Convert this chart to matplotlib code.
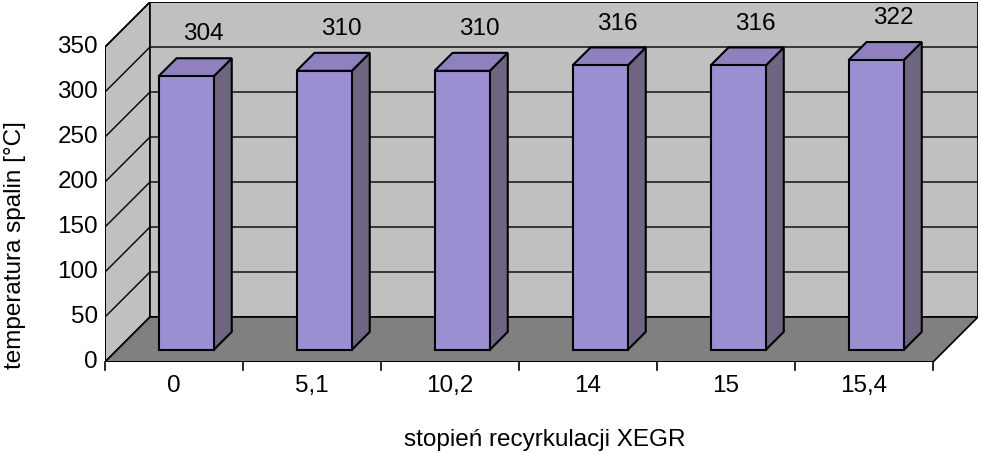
import matplotlib
matplotlib.use("Agg")
import matplotlib.pyplot as plt
from matplotlib.patches import Polygon

plt.rcParams['font.family'] = ['Liberation Sans', 'DejaVu Sans']

categories = ["0", "5,1", "10,2", "14", "15", "15,4"]
values = [304, 310, 310, 316, 316, 322]
yticks = [0, 50, 100, 150, 200, 250, 300, 350]

D = 0.326      # depth offset in category units
DY = 50        # depth offset in value units
f0, f1 = 0.27, 0.67   # bar front/back depth fraction
hw = 0.2
FS = 17.5

fig = plt.figure(figsize=(9.81, 4.55), dpi=100)
ax = fig.add_axes([105 / 981, 1 - 362 / 455, 873 / 981, 360 / 455])
ax.set_xlim(-0.5, 5.5 + D)
ax.set_ylim(0, 350 + DY)
ax.axis('off')

n = len(categories)
x0, x1 = -0.5, n - 0.5
top = yticks[-1]

# walls and floor
ax.add_patch(Polygon([(x0, 0), (x0, top), (x0 + D, top + DY), (x0 + D, DY)],
                     closed=True, fc='#c0c0c0', ec='black', lw=1.2, zorder=1))
ax.add_patch(Polygon([(x0 + D, DY), (x0 + D, top + DY), (x1 + D, top + DY), (x1 + D, DY)],
                     closed=True, fc='#c0c0c0', ec='black', lw=1.2, zorder=1))
ax.add_patch(Polygon([(x0, 0), (x1, 0), (x1 + D, DY), (x0 + D, DY)],
                     closed=True, fc='#808080', ec='black', lw=1.2, zorder=2))
for t in yticks[1:]:
    ax.plot([x0, x0 + D, x1 + D], [t, t + DY, t + DY], color='black', lw=1, zorder=1.5)

# axes lines and ticks
ax.plot([x0, x0], [0, top], color='black', lw=1.2, zorder=3)
ax.plot([x0, x1], [0, 0], color='black', lw=1.2, zorder=3)
for t in yticks:
    ax.plot([x0 - 0.04, x0], [t, t], color='black', lw=1.2, zorder=3)
    ax.text(x0 - 0.05, t, str(t), ha='right', va='center', fontsize=FS)
for i in range(n + 1):
    ax.plot([x0 + i, x0 + i], [0, -9], color='black', lw=1.2, zorder=3, clip_on=False)
for i, c in enumerate(categories):
    ax.text(i, -27, c, ha='center', va='center', fontsize=FS)

# bars
for i, v in enumerate(values):
    l = i - hw + f0 * D
    r = i + hw + f0 * D
    b = f0 * DY
    dx = (f1 - f0) * D
    dy = (f1 - f0) * DY
    ax.add_patch(Polygon([(r, b), (r + dx, b + dy), (r + dx, v + b + dy), (r, v + b)],
                         closed=True, fc='#6e6680', ec='black', lw=1.5, zorder=4))
    ax.add_patch(Polygon([(l, v + b), (r, v + b), (r + dx, v + b + dy), (l + dx, v + b + dy)],
                         closed=True, fc='#8f80c0', ec='black', lw=1.5, zorder=4))
    ax.add_patch(Polygon([(l, b), (r, b), (r, v + b), (l, v + b)],
                         closed=True, fc='#9b8fd2', ec='black', lw=1.5, zorder=5))
    ax.text(i + 0.21, v + 60, str(v), ha='center', va='center', fontsize=FS, zorder=6)

fig.text(15 / 981, 210 / 455, "temperatura spalin [°C]", rotation=90, fontsize=FS,
         ha='center', va='center')
fig.text(545 / 981, 1 - 440 / 455, "stopień recyrkulacji XEGR", fontsize=FS,
         ha='center', va='center')

fig.savefig("out.png", dpi=100, facecolor='white')
